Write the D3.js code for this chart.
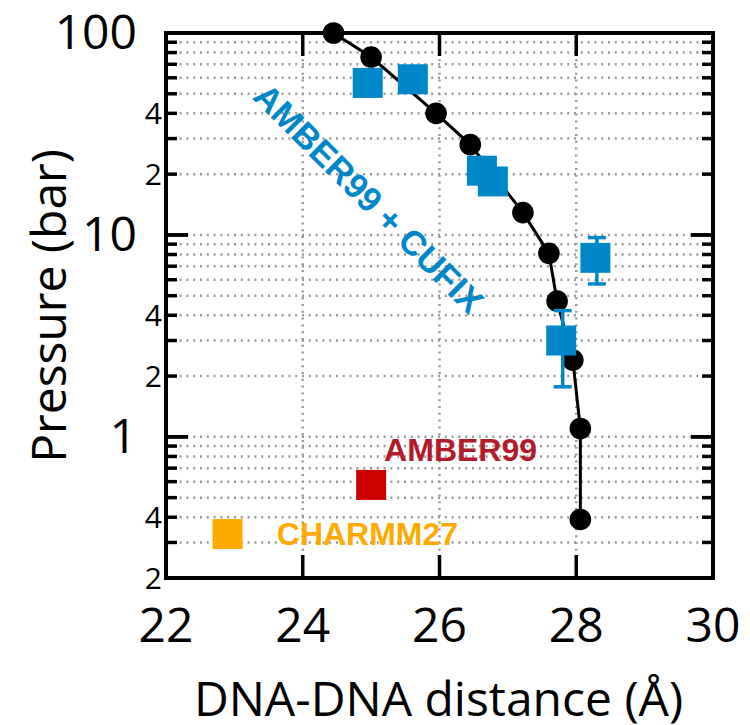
<!DOCTYPE html>
<html>
<head>
<meta charset="utf-8">
<script src="https://cdn.jsdelivr.net/npm/d3@7"></script>
<style>
  body { margin: 0; background: #fff; }
  text { font-family: "Open Sans", sans-serif; }
  .lbl { font-family: "Liberation Sans", Arial, sans-serif; font-weight: bold; }
</style>
</head>
<body>
<div id="chart"></div>
<script>
// simulation curve (black)
var simX = [24.45, 25.0, 25.95, 26.45, 27.22, 27.6, 27.72, 27.95, 28.06, 28.06];
var simP = [100, 76, 40, 28, 12.9, 8.1, 4.7, 2.4, 1.1, 0.39];

// AMBER99 + CUFIX (blue squares)
var cufixX = [24.95, 25.61, 26.62, 26.78, 27.78, 28.28];
var cufixP = [56.6, 59, 20.8, 18.4, 3.0, 7.7];
var cufixLo = [null, null, null, null, 1.77, 5.72];
var cufixHi = [null, null, null, null, 4.22, 9.7];

// AMBER99 and CHARMM27 (one point each)
var amberX = [25.0], amberP = [0.578];
var charmmX = [22.9], charmmP = [0.33];

// ticks
var xTicks = [22, 24, 26, 28, 30];
var yMajor = [1, 10, 100];
var ySmall = [0.2, 0.4, 2, 4, 20, 40];

var width = 750, height = 725;
var margin = {top: 33, right: 37, bottom: 147, left: 166};

var blue = "#0087c9", red = "#cc0000", redText = "#b31a2c", orange = "#ffaa00";

var svg = d3.select("#chart").append("svg")
  .attr("width", width)
  .attr("height", height);

var x = d3.scaleLinear().domain([22, 30]).range([margin.left, width - margin.right]);
var y = d3.scaleLog().domain([0.2, 100]).range([height - margin.bottom, margin.top]);

var x0 = x.range()[0], x1 = x.range()[1];
var y0 = y.range()[0], y1 = y.range()[1];

// minor values for grid / ticks
var minor = [];
[0.1, 1, 10].forEach(function(dec) {
  for (var k = 1; k <= 9; k++) {
    var v = +(dec * k).toPrecision(3);
    if (v > 0.2 && v < 100) minor.push(v);
  }
});

// dotted grid
var grid = svg.append("g").attr("stroke", "#9a9a9a").attr("stroke-width", 2.5).attr("stroke-dasharray", "2,4.8");
grid.selectAll(".hg").data(minor).enter().append("line")
  .attr("x1", x0).attr("x2", x1)
  .attr("y1", function(d) { return y(d); }).attr("y2", function(d) { return y(d); });
grid.selectAll(".vg").data([24, 26, 28]).enter().append("line")
  .attr("y1", y0).attr("y2", y1)
  .attr("x1", function(d) { return x(d); }).attr("x2", function(d) { return x(d); });

// black line and dots
var sim = simX.map(function(d, i) { return {x: d, p: simP[i]}; });
var line = d3.line().x(function(d) { return x(d.x); }).y(function(d) { return y(d.p); });
svg.append("path").datum(sim).attr("d", line)
  .attr("fill", "none").attr("stroke", "#000").attr("stroke-width", 3);
svg.selectAll(".dot").data(sim).enter().append("circle")
  .attr("cx", function(d) { return x(d.x); })
  .attr("cy", function(d) { return y(d.p); })
  .attr("r", 10.8).attr("fill", "#000");

// error bars
var sq = 30, cap = 9;
var cufix = cufixX.map(function(d, i) { return {x: d, p: cufixP[i], lo: cufixLo[i], hi: cufixHi[i]}; });
var eb = svg.append("g").attr("stroke", blue).attr("stroke-width", 3.5);
cufix.filter(function(d) { return d.lo !== null; }).forEach(function(d) {
  var cx = x(d.x) + 1.5;
  eb.append("line").attr("x1", cx).attr("x2", cx).attr("y1", y(d.lo)).attr("y2", y(d.hi));
  eb.append("line").attr("x1", cx - cap).attr("x2", cx + cap).attr("y1", y(d.lo)).attr("y2", y(d.lo));
  eb.append("line").attr("x1", cx - cap).attr("x2", cx + cap).attr("y1", y(d.hi)).attr("y2", y(d.hi));
});

// squares
function squares(xs, ps, col) {
  svg.append("g").selectAll("rect").data(xs).enter().append("rect")
    .attr("x", function(d) { return x(d) - sq / 2; })
    .attr("y", function(d, i) { return y(ps[i]) - sq / 2; })
    .attr("width", sq).attr("height", sq)
    .attr("fill", col);
}
squares(cufixX, cufixP, blue);
squares(amberX, amberP, red);
squares(charmmX, charmmP, orange);

// labels
svg.append("text").attr("class", "lbl")
  .attr("transform", "translate(" + x(24.97) + "," + y(15.2) + ") rotate(45)")
  .attr("text-anchor", "middle").attr("dy", "0.36em")
  .attr("font-size", 34.5).attr("fill", blue)
  .text("AMBER99 + CUFIX");
svg.append("text").attr("class", "lbl")
  .attr("x", x(25.19)).attr("y", y(0.76))
  .attr("font-size", 32).attr("fill", redText)
  .text("AMBER99");
svg.append("text").attr("class", "lbl")
  .attr("x", x(23.62)).attr("y", y(0.292))
  .attr("font-size", 32).attr("fill", orange)
  .text("CHARMM27");

// frame
svg.append("rect").attr("x", x0).attr("y", y1).attr("width", x1 - x0).attr("height", y0 - y1)
  .attr("fill", "none").attr("stroke", "#000").attr("stroke-width", 4);

// ticks
var tk = svg.append("g").attr("stroke", "#000").attr("stroke-width", 3.5);
minor.concat(yMajor).forEach(function(v) {
  var len = yMajor.indexOf(v) >= 0 ? 22 : 11;
  tk.append("line").attr("x1", x0).attr("x2", x0 + len).attr("y1", y(v)).attr("y2", y(v));
  tk.append("line").attr("x1", x1).attr("x2", x1 - len).attr("y1", y(v)).attr("y2", y(v));
});
[24, 26, 28].forEach(function(v) {
  tk.append("line").attr("x1", x(v)).attr("x2", x(v)).attr("y1", y1).attr("y2", y1 + 23);
  tk.append("line").attr("x1", x(v)).attr("x2", x(v)).attr("y1", y0).attr("y2", y0 - 23);
});

// tick labels
svg.selectAll(".xl").data(xTicks).enter().append("text")
  .attr("x", function(d) { return x(d); }).attr("y", y0 + 64)
  .attr("text-anchor", "middle").attr("font-size", 48)
  .text(function(d) { return d; });
svg.selectAll(".yl").data(yMajor).enter().append("text")
  .attr("x", x0 - 29).attr("y", function(d) { return y(d); })
  .attr("dy", "0.33em")
  .attr("text-anchor", "end").attr("font-size", 48)
  .text(function(d) { return d; });
svg.selectAll(".ys").data(ySmall).enter().append("text")
  .attr("x", x0 - 4).attr("y", function(d) { return y(d); })
  .attr("dy", "0.36em")
  .attr("text-anchor", "end").attr("font-size", 30)
  .text(function(d) { return String(d).replace(/^0\.|0$/g, ""); });

// axis titles
svg.append("text")
  .attr("x", (x0 + x1) / 2 - 1).attr("y", 716)
  .attr("text-anchor", "middle").attr("font-size", 48)
  .text("DNA-DNA distance (Å)");
svg.append("text")
  .attr("transform", "translate(66," + 306 + ") rotate(-90)")
  .attr("text-anchor", "middle").attr("font-size", 48)
  .text("Pressure (bar)");
</script>
</body>
</html>
